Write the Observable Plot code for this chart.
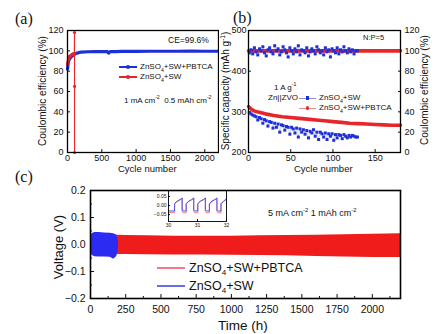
<!DOCTYPE html>
<html><head><meta charset="utf-8">
<script src="https://cdn.jsdelivr.net/npm/d3@7"></script>
<script src="https://cdn.jsdelivr.net/npm/@observablehq/plot@0.6"></script>
<style>
body{margin:0;background:#fff}
#wrap{position:relative;width:436px;height:334px;overflow:hidden;font-family:"Liberation Sans",Arial,sans-serif;background:#fff;color:#111}
.abs{position:absolute;white-space:nowrap;line-height:1}
sub,sup{font-size:65%;line-height:0}
svg{position:absolute}
</style></head><body><div id="wrap"></div>
<script>
// ---------- colours ----------
const RED = "#e8262a", BLUE = "#1f2fd6";

// ---------- panel (a) data ----------
const aXTicks = [0, 500, 1000, 1500, 2000];
const aYTicks = [0, 20, 40, 60, 80, 100, 120];
const aBlueCycle = [0, 10, 20, 40, 60, 80, 100, 130, 160, 200, 300, 400, 500, 580, 600, 620, 700, 800, 1000, 1200, 1400, 1600, 1800, 2000, 2200];
const aBlueCE    = [82, 88, 91, 93, 94.5, 95.5, 96.5, 97.5, 98.2, 98.8, 99.1, 99.2, 99.3, 99.2, 97.8, 99.2, 99.3, 99.4, 99.5, 99.6, 99.6, 99.6, 99.7, 99.6, 99.6];
const aRedCycle  = [0, 5, 10, 15, 20, 25, 30, 40, 50, 60, 70, 80, 90, 100, 102, 103, 103];
const aRedCE     = [87, 89, 91, 92, 93, 94, 94.5, 95, 95.5, 96, 96.5, 97, 97, 97.5, 118, 65, 0];

// ---------- panel (b) data ----------
const bXTicks = [0, 50, 100, 150];
const bCapTicks = [200, 300, 400, 500];
const bCETicks = [0, 20, 40, 60, 80, 100, 120];
const bBlueCycle = [1,3,5,7,9,11,13,15,17,19,21,23,25,27,29,31,33,35,37,39,41,43,45,47,49,51,53,55,57,59,61,63,65,67,69,71,73,75,77,79,81,83,85,87,89,91,93,95,97,99,101,103,105,107,109,111,113,115,117,119,121,123,125,127,129];
const bBlueCE  = [98,101,97,103,99,96,102,100,104,98,95,101,103,99,97,105,100,102,96,99,104,101,98,94,103,100,97,102,99,105,96,101,100,98,103,95,99,102,100,97,104,101,98,100,96,103,99,101,94,102,100,98,103,97,101,99,104,100,98,102,99,101,97,100,100];
const bBlueCap = [298,295,292,290,288,280,286,283,272,281,278,265,276,274,260,272,262,270,250,268,266,255,264,262,245,262,258,248,260,238,258,250,256,245,254,236,252,248,256,240,250,232,250,246,238,248,232,246,240,246,230,244,236,244,242,234,244,240,236,242,238,242,240,238,238];
const bRedCycle = [0, 3, 6, 10, 20, 30, 40, 50, 60, 70, 80, 90, 100, 110, 120, 130, 140, 150, 160, 170, 180];
const bRedCap   = [313, 307, 303, 300, 295, 291, 288, 286, 284, 282, 280, 278, 276, 274, 272, 271, 270, 269, 268, 267, 267];
const bRedCE    = [100, 100, 100, 100, 100, 100, 100, 100, 100, 100, 100, 100, 100, 100, 100, 100, 100, 100, 100, 100, 100];

// ---------- panel (c) data ----------
const cXTicks = [0, 250, 500, 750, 1000, 1250, 1500, 1750, 2000];
const cXMinor = [125, 375, 625, 875, 1125, 1375, 1625, 1875, 2125];
const cYTicks = [-0.2, -0.1, 0, 0.1, 0.2];
const cYMinor = [-0.15, -0.05, 0.05, 0.15];
const cRedTime = [0, 25, 50, 100, 150, 200, 250, 400, 600, 800, 1000, 1200, 1400, 1600, 1800, 2000, 2200];
const cRedHi   = [0.02, 0.03, 0.035, 0.035, 0.034, 0.034, 0.033, 0.032, 0.031, 0.031, 0.031, 0.032, 0.033, 0.034, 0.036, 0.038, 0.04];
const cRedLo   = [-0.02, -0.03, -0.032, -0.033, -0.035, -0.037, -0.037, -0.038, -0.039, -0.039, -0.04, -0.041, -0.042, -0.044, -0.046, -0.048, -0.048];
const cBlueTime = [0, 10, 30, 60, 100, 140, 165, 185, 195, 200];
const cBlueHi   = [0.02, 0.04, 0.044, 0.044, 0.043, 0.042, 0.04, 0.035, 0.02, 0.0];
const cBlueLo   = [-0.02, -0.04, -0.045, -0.046, -0.046, -0.047, -0.055, -0.045, -0.03, 0.0];

// ---------- inset data ----------
const iXTicks = [30, 31, 32];
const iYTicks = [-0.05, 0, 0.05];
const iTime = [30.00,30.21,30.21,30.30,30.40,30.47,30.47,30.50,30.61,30.61,30.70,30.80,30.87,30.87,30.90,31.01,31.01,31.10,31.20,31.27,31.27,31.30,31.41,31.41,31.50,31.60,31.67,31.67,31.70,31.81,31.81,31.90,32.00];
const iBlue = [-0.03,-0.03,0.01,0.025,0.033,0.042,-0.025,-0.03,-0.03,0.01,0.025,0.033,0.042,-0.025,-0.03,-0.03,0.01,0.025,0.033,0.042,-0.025,-0.03,-0.03,0.01,0.025,0.033,0.042,-0.025,-0.03,-0.03,0.01,0.025,0.036];
const iRed  = [-0.038,-0.038,0.007,0.023,0.031,0.039,-0.032,-0.04,-0.04,0.007,0.023,0.031,0.039,-0.032,-0.04,-0.04,0.007,0.023,0.031,0.039,-0.032,-0.04,-0.04,0.007,0.023,0.031,0.039,-0.032,-0.04,-0.04,0.007,0.023,0.034];

// ---------- build tables ----------
const zip = (xs, ys) => xs.map((x, i) => ({x, y: ys[i]}));
const ceToCap = c => 200 + c * 2.5;
const intFmt = d3.format("d");

const W = document.getElementById("wrap");
const FONT = "Liberation Sans, Arial, sans-serif";
function put(svg, left, top){ svg.style.left = left + "px"; svg.style.top = top + "px"; W.appendChild(svg); }
function txt(html, left, top, size, extra = ""){
  const d = document.createElement("div"); d.className = "abs"; d.innerHTML = html;
  d.style.cssText += `left:${left}px;top:${top}px;font-size:${size}px;transform:translateY(-50%);${extra}`;
  W.appendChild(d); return d;
}
function vtxt(html, cx, cy, size){
  const d = document.createElement("div"); d.className = "abs"; d.innerHTML = html;
  d.style.cssText += `left:${cx}px;top:${cy}px;font-size:${size}px;transform:translate(-50%,-50%) rotate(-90deg);`;
  W.appendChild(d); return d;
}
function seg(left, top, w, color, h = 1.5, op = 1){
  const d = document.createElement("div");
  d.style.cssText = `position:absolute;left:${left}px;top:${top - h/2}px;width:${w}px;height:${h}px;background:${color};opacity:${op}`;
  W.appendChild(d);
}
function mk(cx, cy, color, r, square = false){
  const d = document.createElement("div");
  d.style.cssText = `position:absolute;left:${cx - r}px;top:${cy - r}px;width:${2*r}px;height:${2*r}px;background:${color};border-radius:${square ? 0 : r}px`;
  W.appendChild(d);
}

// ---------- panel (a) ----------
const pa = Plot.plot({
  width: 219, height: 175, marginLeft: 67, marginRight: 1, marginTop: 30, marginBottom: 23,
  style: {fontFamily: FONT, fontSize: "9px", color: "#111", background: "transparent"},
  x: {domain: [0, 2200]}, y: {domain: [0, 120]},
  marks: [
    Plot.axisX(aXTicks, {tickSize: -3, tickPadding: 5, label: null, tickFormat: intFmt}),
    Plot.axisY(aYTicks, {tickSize: -3, tickPadding: 7, label: null, tickFormat: intFmt}),
    Plot.line(zip(aBlueCycle, aBlueCE), {x: "x", y: "y", stroke: BLUE, strokeWidth: 3.2}),
    Plot.line(zip(aRedCycle, aRedCE), {x: "x", y: "y", stroke: RED, strokeWidth: 1.1}),
    Plot.dot(zip(aRedCycle, aRedCE), {x: "x", y: "y", fill: RED, r: 1.6}),
    Plot.frame({stroke: "#000", strokeWidth: 1.3})
  ]
});
put(pa, 0, 0);

// ---------- panel (b) ----------
const pb = Plot.plot({
  width: 218, height: 175, marginLeft: 30, marginRight: 36, marginTop: 30, marginBottom: 23,
  style: {fontFamily: FONT, fontSize: "9px", color: "#111", background: "transparent"},
  x: {domain: [0, 180]}, y: {domain: [200, 500]},
  marks: [
    Plot.axisX(bXTicks, {tickSize: -3, tickPadding: 5, label: null, tickFormat: intFmt}),
    Plot.axisY(bCapTicks, {anchor: "left", tickSize: -3, tickPadding: 5, label: null, tickFormat: intFmt}),
    Plot.axisY(bCETicks.map(ceToCap), {anchor: "right", tickSize: -3, tickPadding: 7, label: null,
      tickFormat: v => String(Math.round((v - 200) / 2.5))}),
    Plot.line(zip(bRedCycle, bRedCap), {x: "x", y: "y", stroke: RED, strokeWidth: 3.6}),
    Plot.line(zip(bRedCycle, bRedCE.map(ceToCap)), {x: "x", y: "y", stroke: RED, strokeWidth: 3.6}),
    Plot.line(zip(bBlueCycle, bBlueCap), {x: "x", y: "y", stroke: BLUE, strokeWidth: 0.6, strokeOpacity: 0.35}),
    Plot.line(zip(bBlueCycle, bBlueCE.map(ceToCap)), {x: "x", y: "y", stroke: BLUE, strokeWidth: 0.6, strokeOpacity: 0.35}),
    Plot.dot(zip(bBlueCycle, bBlueCap), {x: "x", y: "y", fill: BLUE, r: 1.7, symbol: "square"}),
    Plot.dot(zip(bBlueCycle, bBlueCE.map(ceToCap)), {x: "x", y: "y", fill: BLUE, r: 1.7, symbol: "square"}),
    Plot.frame({stroke: "#000", strokeWidth: 1.3})
  ]
});
put(pb, 218, 0);

// ---------- panel (c) ----------
const redBand = cRedTime.map((t, i) => ({t, lo: cRedLo[i], hi: cRedHi[i]}));
const blueBand = cBlueTime.map((t, i) => ({t, lo: cBlueLo[i], hi: cBlueHi[i]}));
const pc = Plot.plot({
  width: 436, height: 164, marginLeft: 90, marginRight: 36, marginTop: 20, marginBottom: 36,
  style: {fontFamily: FONT, fontSize: "10.5px", color: "#111", background: "transparent"},
  x: {domain: [0, 2200]}, y: {domain: [-0.2, 0.2]},
  marks: [
    Plot.axisX(cXTicks, {tickSize: -4, tickPadding: 11, label: null, tickFormat: intFmt}),
    Plot.axisX(cXMinor, {tickSize: -2, tickFormat: () => "", label: null}),
    Plot.axisY(cYTicks, {tickSize: -4, tickPadding: 9, label: null, tickFormat: d3.format(".1f")}),
    Plot.axisY(cYMinor, {tickSize: -2, tickFormat: () => "", label: null}),
    Plot.areaY(redBand, {x: "t", y1: "lo", y2: "hi", fill: "#f01c1c", curve: "linear"}),
    Plot.areaY(blueBand, {x: "t", y1: "lo", y2: "hi", fill: "#2b2bf2", curve: "linear"}),
    Plot.frame({stroke: "#000", strokeWidth: 1.6})
  ]
});
put(pc, 0, 170);

// ---------- inset ----------
const pi = Plot.plot({
  width: 80, height: 60, marginLeft: 18, marginRight: 4, marginTop: 10, marginBottom: 19,
  style: {fontFamily: FONT, fontSize: "5px", color: "#111", background: "transparent"},
  x: {domain: [30, 32]}, y: {domain: [-0.088, 0.083]},
  marks: [
    Plot.axisX(iXTicks, {tickSize: -2, tickPadding: 4, label: null, tickFormat: intFmt}),
    Plot.axisY(iYTicks, {tickSize: -2, tickPadding: 4, label: null, tickFormat: d3.format(".2f")}),
    Plot.line(zip(iTime, iRed), {x: "x", y: "y", stroke: "#ff6f7a", strokeWidth: 0.9}),
    Plot.line(zip(iTime, iBlue), {x: "x", y: "y", stroke: "#4a55e8", strokeWidth: 1}),
    Plot.frame({stroke: "#000", strokeWidth: 0.9})
  ]
});
put(pi, 150, 180);

// ---------- panel labels ----------
txt("(a)", 15, 19, 16, "font-family:'Liberation Serif','DejaVu Serif',serif");
txt("(b)", 233, 18, 16, "font-family:'Liberation Serif','DejaVu Serif',serif");
txt("(c)", 15, 177, 16, "font-family:'Liberation Serif','DejaVu Serif',serif");

// ---------- axis titles ----------
vtxt("Coulombic efficiency (%)", 43, 91, 10);
txt("Cycle number", 118, 169, 9.5);
vtxt("Specific capacity (mAh g<sup>-1</sup>)", 226, 91, 10);
vtxt("Coulombic efficiency (%)", 425, 90, 10);
txt("Cycle number", 294, 169, 9.5);
vtxt("Voltage (V)", 58, 247, 13);
txt("Time (h)", 218, 326, 13.5);

// ---------- annotations ----------
txt("CE=99.6%", 168, 40, 8.5);
txt("1 mA cm<sup>-2</sup>&nbsp; 0.5 mAh cm<sup>-2</sup>", 124, 101, 8);
txt("N:P=5", 363, 38, 7.5);
txt("1 A g<sup>-1</sup>", 274, 88, 8);
txt("Zn||ZVO", 268, 98, 8);
txt("5 mA cm<sup>-2</sup> 1 mAh cm<sup>-2</sup>", 268, 213, 9);

// ---------- legends ----------
seg(119, 67, 18, BLUE, 1.6); mk(128, 67, BLUE, 2.2);
txt("ZnSO<sub>4</sub>+SW+PBTCA", 140, 67, 8);
seg(119, 77, 18, RED, 1.2); mk(128, 77, RED, 2.2);
txt("ZnSO<sub>4</sub>+SW", 140, 77, 8);

seg(299, 98, 17, "#8a8fd8", 1); mk(307.5, 98, BLUE, 1.9, true);
txt("ZnSO<sub>4</sub>+SW", 319, 98, 8);
seg(299, 108, 17, "#e88a8a", 1); mk(307.5, 108, RED, 1.9);
txt("ZnSO<sub>4</sub>+SW+PBTCA", 319, 108, 8);

seg(157, 268, 28, "#f07a80", 1.2);
txt("ZnSO<sub>4</sub>+SW+PBTCA", 189, 268, 12.5);
seg(157, 286, 28, "#6a6af0", 1.2);
txt("ZnSO<sub>4</sub>+SW", 189, 286, 12.5);
</script></body></html>
